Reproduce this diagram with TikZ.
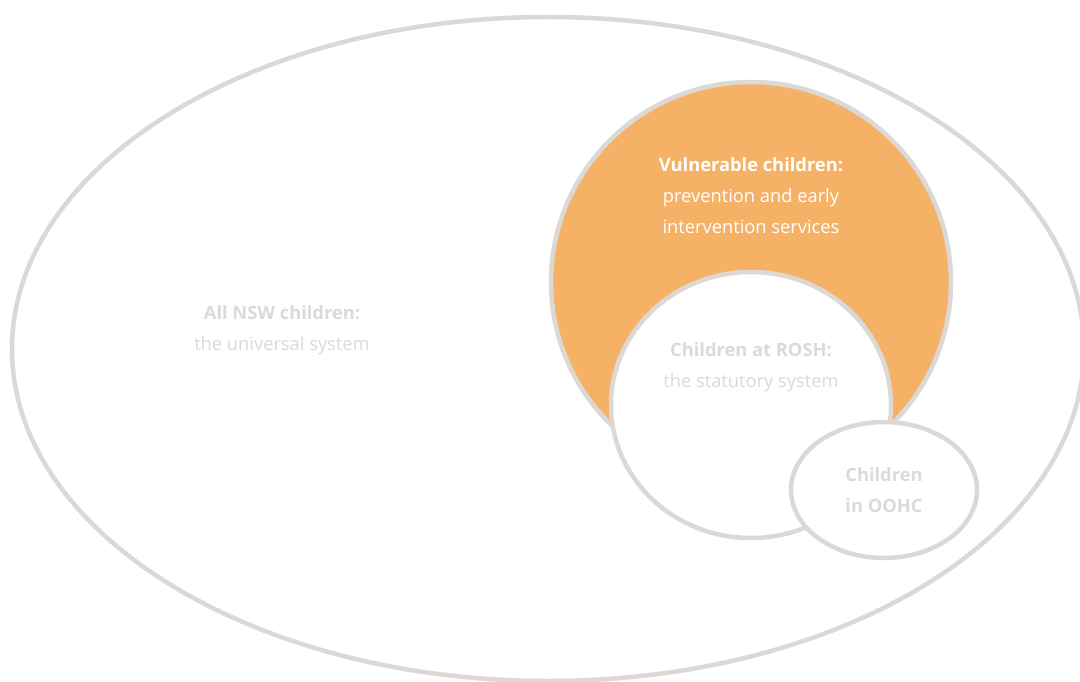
\documentclass[tikz,border=0pt]{standalone}
\usepackage{fontspec}
\setmainfont{Open Sans}
\usetikzlibrary{shapes.geometric}
\definecolor{ringgrey}{HTML}{DCD8D5}
\definecolor{textgrey}{HTML}{DDD9D6}
\definecolor{vulnorange}{HTML}{F5B266}
\tikzset{
  ring/.style={ellipse, draw=ringgrey, line width=4.5pt, inner sep=0pt, outer sep=0pt},
  label/.style={align=center, inner sep=0pt, font=\fontsize{18.3}{31}\selectfont},
}
\begin{document}
\begin{tikzpicture}[x=1pt,y=-1pt]
\useasboundingbox[fill=white] (0,0) rectangle (1080,682);
\node[ring, minimum width=1072pt, minimum height=664pt] (all) at (548,349) {};
\node[ring, fill=vulnorange, minimum width=400pt, minimum height=400pt] (vuln) at (751,282) {};
\node[ring, fill=white, minimum width=280pt, minimum height=266pt] (rosh) at (751,405) {};
\node[ring, fill=white, minimum width=186pt, minimum height=136pt] (oohc) at (884,490) {};
\node[label, text=textgrey] (alltxt) at (282,330) {\textbf{All NSW children:}\\the universal system};
\node[label, text=white] (vulntxt) at (751,196) {\textbf{Vulnerable children:}\\prevention and early\\intervention services};
\node[label, text=textgrey] (roshtxt) at (751,367) {\textbf{Children at ROSH:}\\the statutory system};
\node[label, text=textgrey] (oohctxt) at (884,490) {\textbf{Children}\\\textbf{in OOHC}};
\end{tikzpicture}
\end{document}
